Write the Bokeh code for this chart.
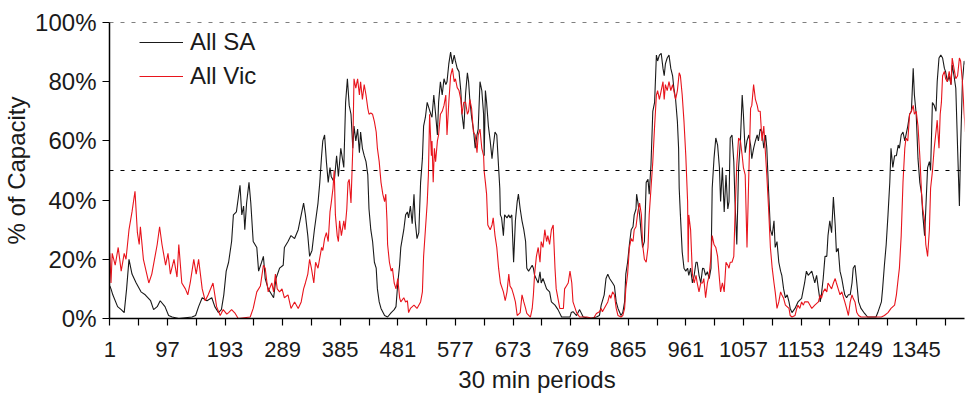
from bokeh.plotting import figure
from bokeh.models import FixedTicker, Span, Legend, LegendItem, Range1d
from bokeh.embed import file_html
from bokeh.resources import INLINE

# ---- data: (30-min period, % of capacity) ----
sa_readings = [
    (1, 11), (3, 10), (6, 8), (14, 4), (20, 3), (25, 2), (29, 10), (33, 20), (38, 15), (45, 12), (53, 9),
    (60, 8), (69, 6), (74, 3), (80, 4), (85, 6), (93, 4), (99, 1), (105, 0.5), (116, 0), (138, 0.5), (144, 1),
    (149, 4), (155, 7), (163, 6),
    (171, 7), (176, 4), (182, 2), (187, 3), (191, 8), (195, 16), (199, 19), (204, 26), (207, 35), (212, 36),
    (218, 45), (221, 35), (224, 38), (226, 30), (229, 39), (233, 46), (236, 39), (240, 26), (246, 24), (249, 16),
    (254, 19), (257, 21), (260, 13.5), (265, 10), (271, 8),
    (274, 7), (278, 13.5), (284, 17), (290, 18), (292, 24), (298, 26), (303, 28), (309, 27), (315, 30), (320, 35),
    (324, 39), (327, 35), (331, 28), (334, 21), (338, 23), (342, 30), (348, 39), (351, 46), (354, 55), (356, 60),
    (359, 62), (362, 53), (365, 46), (368, 51), (370, 48), (375, 46), (379, 55),
    (382, 48), (386, 57.5), (391, 51), (394, 73), (397, 81), (400, 72), (403, 69), (406, 57.5), (408, 65), (411, 60),
    (414, 64), (417, 56), (419, 63), (422, 57.5), (425, 55), (428, 53), (431, 48.5), (433, 37), (436, 30), (439, 26),
    (442, 19), (445, 17), (447, 10), (450, 5.6), (453, 3.4), (459, 1), (464, 0.5), (470, 2), (475, 3), (478, 4),
    (481, 12), (484, 18), (486, 24),
    (491, 30), (494, 35), (497, 36), (499, 34), (502, 38), (505, 32), (508, 42), (510, 33), (513, 27), (516, 29),
    (519, 46), (522, 54), (524, 65), (527, 68), (530, 73), (533, 71), (536, 69), (538, 68), (541, 75.5), (544, 69),
    (547, 62), (549, 73), (552, 80), (555, 75.5), (558, 81), (561, 79), (563, 80), (566, 86), (569, 90), (572, 86),
    (575, 89), (577, 87), (580, 84.5), (583, 83.4), (586, 77), (588, 69), (591, 64), (594, 76), (597, 83),
    (599, 80), (601, 74), (604, 68), (607, 64), (610, 57.5), (613, 62), (615, 64), (618, 80), (621, 77), (624, 69),
    (625, 55), (627, 77), (629, 73), (632, 65), (635, 60), (638, 54), (640, 58), (643, 63), (646, 62), (649, 51),
    (651, 44), (652, 35), (654, 34), (657, 28), (659, 35), (663, 34), (666, 35), (668, 34), (671, 35), (674, 19),
    (677, 33), (680, 39.5), (682, 42), (685, 37), (688, 33), (691, 30), (694, 26), (696, 17), (699, 16), (702, 17),
    (705, 18), (707, 17),
    (709, 14.6), (715, 12), (718, 15.8), (720, 12), (723, 13.5), (729, 10), (734, 9), (737, 5.6), (743, 4.5), (748, 3),
    (754, 0.5), (768, 0.5), (770, 2), (773, 2.3), (779, 1), (784, 3), (790, 0.5), (801, 0), (812, 0.5),
    (817, 1), (820, 4.5), (825, 8), (828, 13.5), (831, 15), (834, 13.5), (839, 12), (842, 11), (845, 5.6), (848, 3.4),
    (853, 1), (856, 2), (859, 5.6), (861, 15), (864, 19), (867, 25), (870, 30), (873, 31), (875, 35), (878, 37),
    (879, 42), (881, 39.5), (884, 35), (887, 28), (889, 24), (892, 26), (895, 46), (898, 47), (900, 42), (903, 52),
    (906, 70), (909, 73), (912, 89), (914, 87), (917, 89), (920, 89.6), (923, 84.5),
    (925, 82), (927, 86), (930, 88), (933, 89), (936, 84.5), (939, 82), (941, 78), (944, 74), (947, 66.5), (949, 57.5),
    (950, 44), (952, 35), (955, 22.5), (958, 17), (961, 16), (964, 17), (966, 14.6), (969, 17), (972, 12), (975, 14.6),
    (978, 19), (980, 19), (983, 14.6), (986, 12), (989, 17), (991, 16.9), (994, 14.6), (997, 15.8), (1000, 13.5),
    (1003, 17), (1005, 44), (1008, 54), (1011, 61), (1014, 58.6), (1017, 51), (1019, 39.5), (1022, 51), (1025, 36),
    (1028, 48.5), (1031, 37), (1033, 39.5),
    (1035, 61), (1038, 62), (1041, 53), (1043, 39.5), (1046, 25), (1049, 51), (1052, 60), (1055, 75.5), (1057, 69),
    (1060, 56), (1063, 60), (1066, 62), (1069, 58.6), (1071, 54), (1074, 57.5), (1077, 60), (1080, 62), (1082, 60),
    (1085, 64), (1088, 63), (1091, 57.5), (1094, 62), (1096, 57.5), (1099, 43), (1102, 30), (1105, 28), (1108, 33),
    (1110, 24), (1113, 26), (1116, 19), (1119, 16), (1121, 14.6), (1124, 10), (1127, 7), (1130, 8), (1133, 5.6),
    (1135, 3.4), (1138, 2),
    (1143, 3.4), (1148, 5.6), (1154, 6.8), (1159, 12), (1162, 16), (1165, 14.6), (1171, 16), (1176, 12), (1179, 14.6),
    (1182, 10), (1185, 5.6), (1187, 8), (1190, 13.5), (1193, 21), (1196, 21), (1198, 28), (1201, 33), (1204, 29),
    (1207, 41), (1210, 31.5), (1212, 22.5), (1215, 23.7), (1218, 16), (1221, 13.5), (1224, 10), (1226, 8), (1229, 7),
    (1232, 8), (1235, 8), (1238, 12), (1240, 17), (1243, 18), (1246, 12), (1249, 5.6), (1251, 4.5),
    (1253, 3.4), (1259, 1.7), (1264, 0.5), (1278, 0.5), (1281, 2), (1287, 5.6), (1289, 10), (1292, 18), (1295, 25),
    (1298, 35), (1301, 46), (1303, 57.5), (1306, 51), (1309, 55), (1312, 55), (1315, 58.6), (1317, 57.5), (1320, 62),
    (1323, 63), (1326, 60), (1328, 62), (1331, 65), (1334, 69), (1337, 70), (1340, 84.5), (1342, 75.5), (1345, 69),
    (1348, 54), (1351, 46), (1354, 42), (1356, 35), (1359, 28),
    (1361, 37), (1364, 51), (1367, 53), (1369, 50), (1372, 73), (1375, 72), (1378, 70), (1380, 80), (1383, 88),
    (1386, 89), (1389, 88), (1392, 84.5), (1394, 83.4), (1397, 80), (1400, 82), (1403, 79), (1405, 85.7), (1408, 82),
    (1411, 77.8), (1414, 57.5), (1417, 38), (1419, 57.5), (1422, 80), (1425, 87), (1427, 85.7),
]

vic_readings = [
    (1, 22), (3, 12), (5, 22), (10, 18), (15, 24), (20, 16), (25, 22), (28, 20), (33, 30), (38, 36), (43, 43),
    (47, 29), (50, 25), (52, 31),
    (57, 20), (66, 12), (71, 15), (80, 25), (84, 31), (88, 25), (94, 18), (98, 22), (102, 15), (108, 20), (113, 14),
    (116, 25), (121, 12), (127, 10), (131, 8), (135, 12), (141, 20), (145, 15), (149, 20), (155, 10), (160, 6),
    (165, 8), (173, 12), (179, 4), (185, 1), (190, 3), (196, 1.5), (199, 2), (204, 3), (210, 1.7), (215, 0),
    (235, 0.5), (240, 3.4), (246, 9), (252, 11), (257, 18), (260, 17), (263, 12), (265, 9), (271, 12),
    (274, 9), (277, 15), (280, 10), (284, 9), (288, 10), (292, 7), (298, 8), (303, 3.4), (309, 5.6), (315, 3.4),
    (320, 5.6), (324, 10), (327, 12), (331, 15), (334, 20), (337, 17), (341, 12), (344, 19), (348, 17), (354, 24),
    (356, 23), (359, 27), (362, 29), (365, 26), (368, 36), (370, 39), (373, 44), (375, 50), (377, 35), (380, 28),
    (382, 26), (384, 33), (387, 28), (391, 33), (393, 30), (396, 37), (398, 46), (400, 47), (403, 39), (406, 57.5),
    (408, 81), (411, 77.8), (414, 81), (417, 75.5), (419, 80), (422, 74), (425, 79), (428, 75.5), (431, 71), (433, 69),
    (436, 69.4), (439, 69), (442, 66.5), (445, 63), (447, 57.5), (450, 53), (453, 46), (456, 42), (459, 39.5),
    (461, 42), (463, 33), (464, 25), (467, 19), (470, 16), (472, 17), (475, 12), (478, 10), (481, 13.5), (484, 7),
    (486, 5.6),
    (491, 7), (494, 5.6), (497, 6), (499, 2), (502, 3.4), (508, 4.5), (513, 3.4), (519, 5.6), (522, 9), (524, 21),
    (527, 30), (530, 39), (532, 48.5), (534, 69), (537, 55), (538, 60), (540, 46), (542, 57.5), (544, 53), (547, 60),
    (549, 62), (552, 69), (555, 70), (558, 72), (561, 75.5), (563, 62), (566, 73), (569, 82), (572, 84.5), (575, 80),
    (577, 81), (580, 78), (583, 77), (586, 74), (588, 69), (591, 73), (594, 73), (597, 69),
    (599, 70), (601, 74), (604, 71), (607, 63), (610, 62), (613, 56), (615, 62), (618, 64), (621, 57.5), (624, 55),
    (625, 49.6), (627, 46), (629, 42), (631, 31.6), (635, 30), (638, 31.6), (640, 34), (643, 28), (646, 24), (649, 17),
    (652, 12), (657, 9), (660, 6), (663, 9), (666, 15), (668, 11), (671, 10), (674, 8), (677, 5.6), (680, 1),
    (685, 2), (688, 8), (691, 5.6), (694, 3.4), (696, 1.7), (702, 0.5), (705, 3.4), (707, 8),
    (709, 15), (712, 21), (715, 24), (718, 19), (720, 26), (723, 24), (726, 30), (729, 26), (731, 28), (734, 25),
    (737, 30), (740, 31.6), (743, 17), (745, 10), (751, 3.4), (757, 3.4), (759, 10), (762, 11), (765, 12), (768, 16),
    (771, 12), (773, 5.6), (779, 2), (784, 0.5), (796, 0.5), (807, 0), (812, 1.7),
    (817, 2.3), (820, 3.4), (822, 2.3), (828, 4.5), (831, 5.6), (834, 8), (836, 6.8), (839, 9), (842, 8), (845, 3.4),
    (848, 1), (853, 0.5), (856, 1), (859, 3.4), (861, 10), (864, 15), (867, 24), (870, 27), (873, 26), (875, 30),
    (878, 31), (881, 36), (884, 39), (887, 35), (889, 25), (892, 20), (895, 19), (898, 24), (900, 35), (903, 44),
    (906, 53), (909, 65), (912, 75.5), (914, 77), (917, 74), (920, 77), (923, 80),
    (925, 74), (927, 79), (930, 77), (933, 80), (936, 77), (939, 79), (941, 77), (944, 74), (947, 77), (950, 83),
    (952, 82), (955, 75.5), (958, 66.5), (961, 55), (964, 39.5), (965, 19), (966, 35), (969, 30), (972, 15), (975, 12),
    (978, 14.6), (980, 12), (983, 9), (986, 12), (989, 12), (991, 13.5), (994, 7), (997, 12), (1000, 14.6), (1003, 21),
    (1005, 28), (1008, 25), (1011, 24), (1014, 21), (1017, 13.5), (1019, 9), (1022, 12), (1025, 9), (1028, 19),
    (1031, 18), (1033, 17),
    (1035, 19), (1038, 19), (1041, 21), (1043, 35), (1046, 52), (1049, 61), (1052, 60), (1055, 55), (1057, 51),
    (1060, 48.5), (1063, 24), (1066, 48.5), (1069, 71), (1071, 72), (1074, 79), (1077, 74), (1080, 72), (1082, 70),
    (1085, 70), (1088, 60), (1091, 65), (1094, 55), (1096, 48.5), (1099, 37), (1102, 24), (1105, 17), (1108, 12),
    (1110, 9), (1113, 3.4), (1116, 5.6), (1119, 9), (1121, 8), (1124, 6.8), (1127, 4.5), (1133, 3.4), (1135, 1),
    (1138, 0.5),
    (1143, 1), (1146, 3.4), (1148, 4.5), (1151, 3.4), (1154, 5.6), (1157, 4.5), (1159, 5.6), (1165, 5.6), (1171, 3.4),
    (1176, 4.5), (1182, 5.6), (1185, 8), (1187, 6.8), (1190, 9), (1193, 10), (1196, 9), (1198, 12), (1201, 11),
    (1204, 10), (1207, 12), (1210, 13.5), (1212, 12), (1215, 10), (1218, 8), (1221, 9), (1226, 5.6), (1229, 3.4),
    (1232, 1), (1235, 5.6), (1238, 8), (1240, 6.8), (1243, 5.6), (1246, 2), (1249, 1),
    (1253, 0.5), (1287, 0.5), (1292, 1), (1298, 2), (1303, 3.4), (1309, 4.5), (1312, 8), (1315, 13.5), (1317, 17),
    (1320, 28), (1323, 46), (1326, 57.5), (1328, 61), (1331, 60), (1334, 69), (1337, 70), (1340, 72), (1342, 69),
    (1345, 70), (1348, 65), (1351, 55), (1354, 42), (1356, 37), (1359, 33),
    (1361, 25), (1364, 21), (1367, 30), (1369, 44), (1372, 49.6), (1375, 57.5), (1378, 63), (1380, 67), (1383, 57.5),
    (1385, 69), (1387, 73), (1389, 82), (1392, 83.5), (1394, 81), (1397, 80), (1400, 83.5), (1403, 79), (1405, 88),
    (1408, 84.5), (1411, 81), (1414, 82), (1417, 88), (1419, 87), (1422, 80), (1425, 69), (1427, 63),
]

x_tick_values = [1, 97, 193, 289, 385, 481, 577, 673, 769, 865, 961, 1057, 1153, 1249, 1345]
x_minor_values = [49, 145, 241, 337, 433, 529, 625, 721, 817, 913, 1009, 1105, 1201, 1297, 1393]
y_tick_values = [0, 20, 40, 60, 80, 100]
y_tick_labels = ["0%", "20%", "40%", "60%", "80%", "100%"]
ref_levels = [50, 100]
series_names = ["All SA", "All Vic"]
series_colors = ["#1a1a1a", "#e8141c"]

sa_x = [r[0] for r in sa_readings]
sa_y = [r[1] for r in sa_readings]
vic_x = [r[0] for r in vic_readings]
vic_y = [r[1] for r in vic_readings]

FONT = "Liberation Sans"

p = figure(width=966, height=397, output_backend="svg", toolbar_location=None,
           x_range=Range1d(0.5, 1425.5), y_range=Range1d(0, 100),
           min_border_left=104, min_border_right=2, min_border_top=22, min_border_bottom=79)
p.outline_line_color = None
p.grid.visible = False
p.background_fill_color = "white"

for lvl in ref_levels:
    p.add_layout(Span(location=lvl, dimension="width", line_color="black",
                      line_width=1, line_dash="4 7"))

r_sa = p.line(sa_x, sa_y, line_color=series_colors[0], line_width=1.1)
r_vic = p.line(vic_x, vic_y, line_color=series_colors[1], line_width=1.1)

p.xaxis.ticker = FixedTicker(ticks=x_tick_values, minor_ticks=x_minor_values)
p.xaxis.axis_label = "30 min periods"
p.yaxis.ticker = FixedTicker(ticks=y_tick_values)
p.yaxis.major_label_overrides = {v: l for v, l in zip(y_tick_values, y_tick_labels)}
p.yaxis.axis_label = "% of Capacity"
p.yaxis.minor_tick_line_color = None

for ax in (p.xaxis[0], p.yaxis[0]):
    ax.axis_line_color = "black"
    ax.axis_line_width = 1.5
    ax.major_tick_line_color = "black"
    ax.major_tick_line_width = 1.2
    ax.major_tick_in = 0
    ax.major_tick_out = 7
    ax.major_label_text_font = FONT
    ax.major_label_text_color = "#1a1a1a"
    ax.axis_label_text_font = FONT
    ax.axis_label_text_font_style = "normal"
    ax.axis_label_text_color = "#1a1a1a"
    ax.axis_label_text_font_size = "24px"

p.xaxis.minor_tick_line_color = "black"
p.xaxis.minor_tick_line_width = 1.2
p.xaxis.minor_tick_in = 0
p.xaxis.minor_tick_out = 7
p.xaxis.major_label_text_font_size = "22px"
p.xaxis.major_label_standoff = 16
p.xaxis.axis_label_standoff = 6
p.yaxis.major_label_text_font_size = "24px"
p.yaxis.major_label_standoff = 6
p.yaxis.axis_label_standoff = 2

legend = Legend(items=[LegendItem(label=series_names[0], renderers=[r_sa]),
                       LegendItem(label=series_names[1], renderers=[r_vic])],
                location=(30, 228))
legend.label_text_font = FONT
legend.label_text_font_size = "24px"
legend.label_text_color = "#1a1a1a"
legend.glyph_width = 44
legend.glyph_height = 24
legend.label_standoff = 7
legend.spacing = 6
legend.padding = 0
legend.margin = 0
legend.border_line_alpha = 0
legend.background_fill_alpha = 0
p.add_layout(legend)

open("out.html", "w").write(file_html(p, INLINE))
